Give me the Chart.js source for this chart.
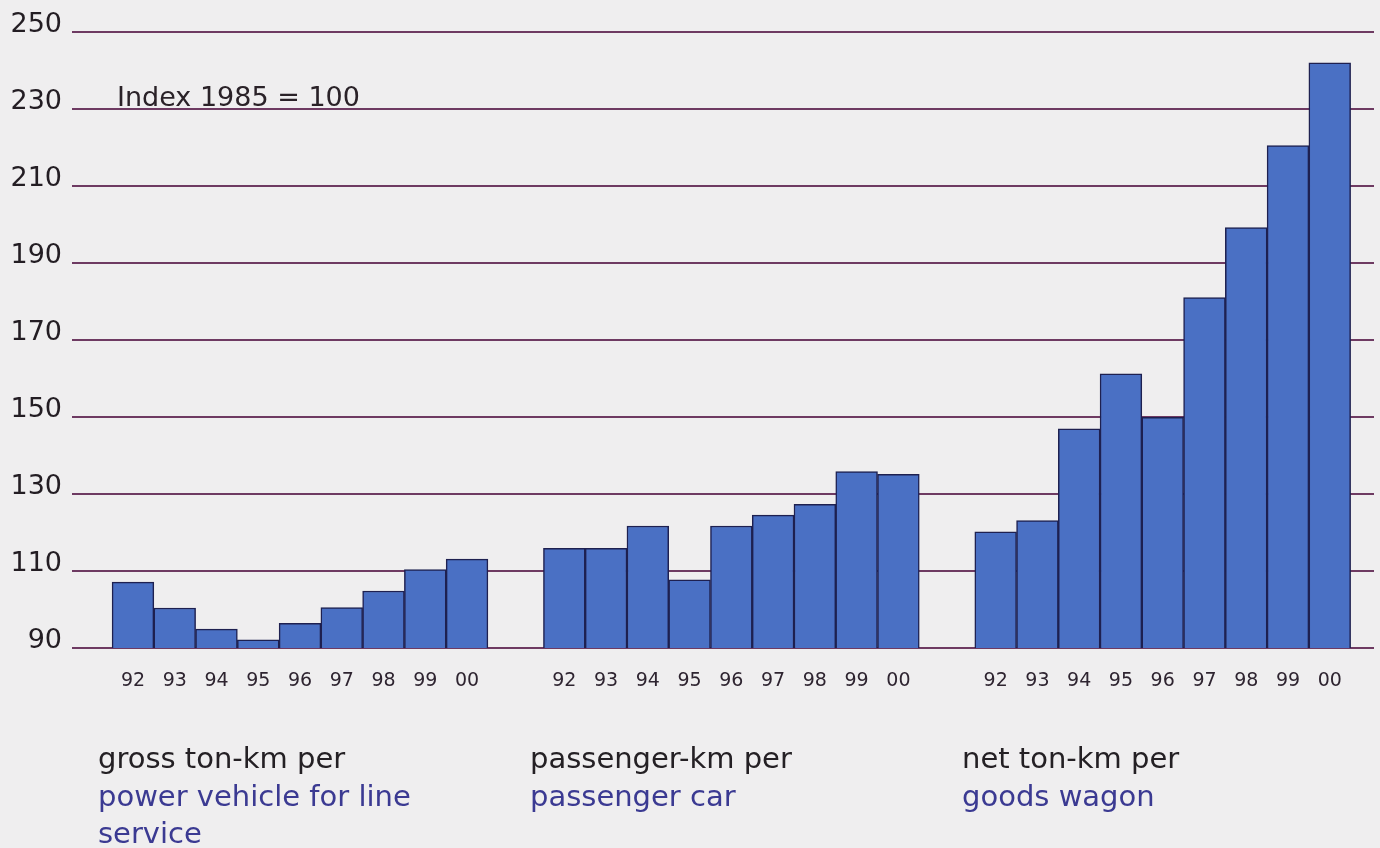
<!DOCTYPE html>
<html>
<head>
<meta charset="utf-8">
<script src="https://cdn.jsdelivr.net/npm/chart.js@4"></script>
<style>
  html, body { margin: 0; padding: 0; background: #efeeef; }
  #wrap { position: relative; width: 1380px; height: 848px; }
</style>
</head>
<body>
<div id="wrap"><canvas id="graph" width="1380" height="848"></canvas></div>
<script>
// Données (index 1985 = 100)
const years = ["92", "93", "94", "95", "96", "97", "98", "99", "00"];
const grossTonKm = [107.1, 100.4, 94.9, 92.1, 96.4, 100.5, 104.8, 110.4, 113.1];
const passengerKm = [115.9, 115.9, 121.7, 107.7, 121.7, 124.5, 127.3, 135.8, 135.1];
const netTonKm = [120.2, 123.1, 146.9, 161.2, 149.9, 181.0, 199.2, 220.5, 242.0];
const yTicks = [90, 110, 130, 150, 170, 190, 210, 230, 250];
const captions = [
  ["gross ton-km per", "power vehicle for line", "service"],
  ["passenger-km per", "passenger car"],
  ["net ton-km per", "goods wagon"]
];
const noteText = "Index 1985 = 100";

const FONT = '"DejaVu Sans", Verdana, sans-serif';

// mise en page : chaque groupe décalé de 9 barres + un espace
const GROUP_STEP = 10.33;
const series = [grossTonKm, passengerKm, netTonKm];
const points = [];
const tickPos = [];
const tickLabel = {};
series.forEach((vals, g) => {
  vals.forEach((v, i) => {
    const x = g * GROUP_STEP + i;
    points.push({ x: x, y: v });
    tickPos.push(x);
    tickLabel[x.toFixed(2)] = years[i];
  });
});

// textes : note et légendes sous les groupes
const textPlugin = {
  id: 'textes',
  afterDraw(chart) {
    const ctx = chart.ctx;
    const y = chart.scales.y;
    ctx.save();
    ctx.textBaseline = 'alphabetic';
    ctx.textAlign = 'left';
    ctx.font = '27px ' + FONT;
    ctx.fillStyle = '#2a2228';
    ctx.fillText(noteText, 117, y.getPixelForValue(230) - 3);

    const xs = [98, 530, 962];
    ctx.font = '29px ' + FONT;
    captions.forEach((lines, g) => {
      lines.forEach((t, k) => {
        ctx.fillStyle = k === 0 ? '#242024' : '#3b3a92';
        ctx.fillText(t, xs[g], 768 + k * 37.5);
      });
    });
    ctx.restore();
  }
};

new Chart(document.getElementById('graph').getContext('2d'), {
  type: 'bar',
  data: {
    datasets: [{
      data: points,
      backgroundColor: '#4a70c4',
      borderColor: '#1e2050',
      borderWidth: 1.5,
      barPercentage: 1,
      categoryPercentage: 1
    }]
  },
  options: {
    responsive: false,
    animation: false,
    layout: { padding: { top: 32, right: 6, left: 0, bottom: 0 } },
    plugins: { legend: { display: false }, tooltip: { enabled: false } },
    scales: {
      x: {
        type: 'linear',
        offset: false,
        min: -1.46,
        max: 29.72,
        grid: { display: false },
        border: { display: false },
        afterBuildTicks: (scale) => { scale.ticks = tickPos.map(v => ({ value: v })); },
        afterFit: (scale) => { scale.height = 200; },
        ticks: {
          autoSkip: false,
          maxRotation: 0,
          padding: 14,
          color: '#2e2430',
          font: { family: FONT, size: 19 },
          callback: (v) => tickLabel[Number(v).toFixed(2)] || ''
        }
      },
      y: {
        min: 90,
        max: 250,
        afterBuildTicks: (scale) => { scale.ticks = yTicks.map(v => ({ value: v })); },
        afterFit: (scale) => { scale.width = 72; },
        grid: { color: '#6e3a62', lineWidth: 2, drawTicks: false },
        border: { display: false },
        ticks: {
          padding: 10,
          labelOffset: -7,
          color: '#231d23',
          font: { family: FONT, size: 27 }
        }
      }
    }
  },
  plugins: [textPlugin]
});
</script>
</body>
</html>
